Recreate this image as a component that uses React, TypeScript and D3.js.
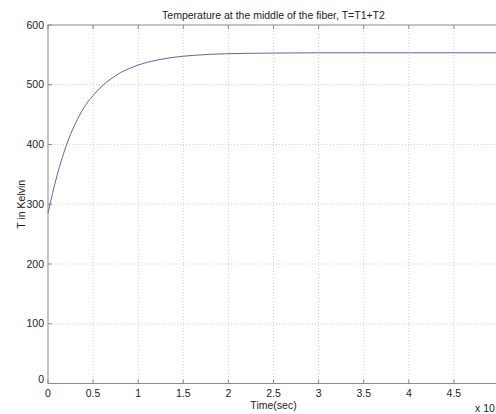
import React from "react";
import * as d3 from "d3";

const timeTicks = [0, 0.5, 1, 1.5, 2, 2.5, 3, 3.5, 4, 4.5, 5];
const tempTicks = [0, 100, 200, 300, 400, 500, 600];
const timeValues = [0, 0.05, 0.1, 0.15, 0.2, 0.25, 0.3, 0.35, 0.4, 0.5, 0.6, 0.7, 0.8, 0.9, 1.0, 1.2, 1.4, 1.6, 1.8, 2.0, 2.5, 3.0, 4.0, 5.0];
const tempValues = [285, 318, 348, 374, 397, 417, 434, 449, 462, 482, 498, 510, 520, 527, 533, 541, 546, 549, 551, 552, 553, 553.5, 553.5, 553.5];

const W = 496;
const H = 414;
const left = 48;
const right = 499;
const top = 25;
const bottom = 383.5;

export default function App() {
  const x = d3.scaleLinear().domain([0, 5]).range([left, right]);
  const y = d3.scaleLinear().domain([0, 600]).range([bottom, top]);
  const pts: [number, number][] = timeValues.map((t, i) => [t, tempValues[i]]);
  const line = d3
    .line<[number, number]>()
    .x((d) => x(d[0]))
    .y((d) => y(d[1]))
    .curve(d3.curveMonotoneX);
  const font = "Liberation Sans, Arial, Helvetica, sans-serif";
  const axisColor = "#8a8a8a";
  const gridColor = "#cfcfcf";
  const textColor = "#222";
  const fs = 10.5;
  return (
    <svg
      width={W}
      height={H}
      style={{ position: "absolute", left: 0, top: 0, display: "block", background: "#fff" }}
      fontFamily={font}
    >
      <rect x={0} y={0} width={W} height={H} fill="#fff" />
      {timeTicks.slice(1, -1).map((t) => (
        <line key={"gx" + t} x1={x(t)} x2={x(t)} y1={top} y2={bottom} stroke={gridColor} strokeWidth={1} strokeDasharray="1,2" />
      ))}
      {tempTicks.slice(1, -1).map((v) => (
        <line key={"gy" + v} x1={left} x2={right} y1={y(v)} y2={y(v)} stroke={gridColor} strokeWidth={1} strokeDasharray="1,2" />
      ))}
      <rect x={left} y={top} width={right - left} height={bottom - top} fill="none" stroke={axisColor} strokeWidth={1} />
      {timeTicks.map((t) => (
        <g key={"tx" + t}>
          <line x1={x(t)} x2={x(t)} y1={bottom} y2={bottom - 4} stroke={axisColor} />
          <line x1={x(t)} x2={x(t)} y1={top} y2={top + 4} stroke={axisColor} />
        </g>
      ))}
      {tempTicks.map((v) => (
        <line key={"ty" + v} x1={left} x2={left + 4} y1={y(v)} y2={y(v)} stroke={axisColor} />
      ))}
      <path d={line(pts) || ""} fill="none" stroke="#6062b0" strokeWidth={1} />
      {timeTicks.slice(0, -1).map((t) => (
        <text key={"lx" + t} x={x(t)} y={bottom + 13} textAnchor="middle" fontSize={fs} fill={textColor}>
          {String(t)}
        </text>
      ))}
      {tempTicks.map((v) => (
        <text key={"ly" + v} x={left - 4} y={y(v) + (v === 0 ? -1 : 3.5)} textAnchor="end" fontSize={fs} fill={textColor}>
          {String(v)}
        </text>
      ))}
      <text x={(left + right) / 2} y={19} textAnchor="middle" fontSize={fs} fill={textColor}>
        Temperature at the middle of the fiber, T=T1+T2
      </text>
      <text x={(left + right) / 2} y={409} textAnchor="middle" fontSize={fs} fill={textColor}>
        Time(sec)
      </text>
      <text transform={`translate(24.5, ${(top + bottom) / 2}) rotate(-90)`} textAnchor="middle" fontSize={fs} fill={textColor}>
        T in Kelvin
      </text>
      <text x={475} y={412} fontSize={fs} fill={textColor}>
        x 10
      </text>
    </svg>
  );
}
